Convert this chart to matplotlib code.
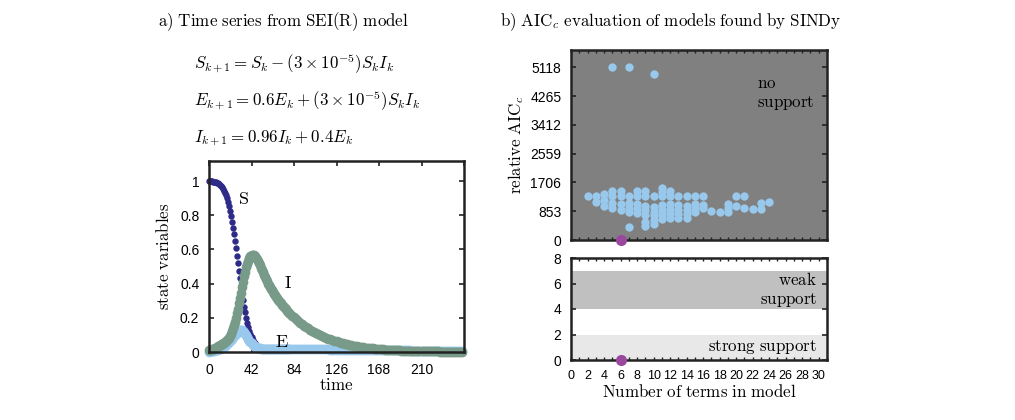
import numpy as np
import matplotlib
matplotlib.use("Agg")
import matplotlib.pyplot as plt

plt.rcParams['mathtext.fontset'] = 'cm'
plt.rcParams['font.family'] = ['Liberation Sans', 'DejaVu Sans']

# ---- panel a: SEI(R) time series (t = 0..79 every step, then every 2nd step) ----
S_early = [1.000, 1.000, 0.999, 0.998, 0.997, 0.996, 0.994, 0.992, 0.989, 0.986,
           0.982, 0.977, 0.971, 0.964, 0.955, 0.944, 0.931, 0.916, 0.898, 0.877,
           0.853, 0.826, 0.796, 0.763, 0.727, 0.689, 0.649, 0.607, 0.564, 0.520,
           0.476, 0.432, 0.388, 0.345, 0.304, 0.265, 0.232, 0.200, 0.172, 0.146,
           0.123, 0.103, 0.086, 0.072, 0.060, 0.050, 0.043, 0.037, 0.032, 0.028,
           0.025, 0.023, 0.021, 0.020, 0.019, 0.018, 0.017, 0.017, 0.016, 0.016,
           0.016, 0.016, 0.016, 0.016, 0.016, 0.016, 0.016, 0.016, 0.016, 0.016,
           0.015, 0.015, 0.015, 0.015, 0.015, 0.015, 0.015, 0.015, 0.015, 0.015]
E_early = [0.002, 0.003, 0.004, 0.005, 0.006, 0.007, 0.009, 0.010, 0.012, 0.014,
           0.016, 0.019, 0.022, 0.025, 0.028, 0.032, 0.036, 0.041, 0.046, 0.052,
           0.058, 0.064, 0.071, 0.078, 0.085, 0.092, 0.099, 0.106, 0.113, 0.119,
           0.124, 0.127, 0.129, 0.128, 0.124, 0.117, 0.108, 0.098, 0.087, 0.077,
           0.067, 0.058, 0.050, 0.043, 0.037, 0.033, 0.029, 0.026, 0.024, 0.022,
           0.021, 0.020, 0.020, 0.019, 0.019, 0.019, 0.018, 0.018, 0.018, 0.018,
           0.017, 0.017, 0.017, 0.017, 0.017, 0.017, 0.017, 0.017, 0.017, 0.017,
           0.016, 0.016, 0.016, 0.016, 0.016, 0.016, 0.016, 0.016, 0.016, 0.016]
I_early = [0.012, 0.013, 0.014, 0.016, 0.018, 0.020, 0.023, 0.026, 0.030, 0.033,
           0.037, 0.040, 0.043, 0.047, 0.051, 0.055, 0.060, 0.065, 0.071, 0.077,
           0.084, 0.093, 0.106, 0.121, 0.138, 0.157, 0.178, 0.200, 0.226, 0.254,
           0.284, 0.315, 0.347, 0.380, 0.412, 0.442, 0.470, 0.495, 0.517, 0.535,
           0.549, 0.559, 0.565, 0.567, 0.565, 0.560, 0.552, 0.542, 0.531, 0.519,
           0.506, 0.493, 0.480, 0.466, 0.453, 0.439, 0.426, 0.413, 0.400, 0.390,
           0.380, 0.370, 0.360, 0.351, 0.342, 0.333, 0.324, 0.316, 0.307, 0.299,
           0.292, 0.284, 0.277, 0.269, 0.262, 0.255, 0.249, 0.242, 0.236, 0.230]

S_late = [0.014, 0.014, 0.014, 0.014, 0.014, 0.014, 0.014, 0.014, 0.014, 0.014,
          0.014, 0.014, 0.014, 0.014, 0.014, 0.014, 0.014, 0.014, 0.014, 0.014,
          0.014, 0.014, 0.014, 0.014, 0.014, 0.014, 0.014, 0.014, 0.014, 0.014,
          0.014, 0.014, 0.014, 0.014, 0.014, 0.014, 0.014, 0.014, 0.014, 0.014,
          0.014, 0.014, 0.014, 0.014, 0.014, 0.014, 0.014, 0.014, 0.014, 0.014,
          0.014, 0.014, 0.014, 0.014, 0.014, 0.014, 0.014, 0.014, 0.014, 0.014,
          0.014, 0.014, 0.014, 0.014, 0.014, 0.014, 0.014, 0.014, 0.014, 0.014,
          0.014, 0.014, 0.014, 0.014, 0.014, 0.014, 0.014, 0.014, 0.014, 0.014,
          0.014, 0.014, 0.014, 0.014, 0.014, 0.014]
E_late = [0.016, 0.016, 0.016, 0.016, 0.016, 0.016, 0.016, 0.016, 0.016, 0.016,
          0.015, 0.015, 0.015, 0.015, 0.015, 0.015, 0.015, 0.015, 0.015, 0.015,
          0.014, 0.014, 0.014, 0.014, 0.014, 0.014, 0.014, 0.014, 0.014, 0.014,
          0.012, 0.012, 0.012, 0.012, 0.012, 0.012, 0.012, 0.012, 0.012, 0.012,
          0.010, 0.010, 0.010, 0.010, 0.010, 0.010, 0.010, 0.010, 0.010, 0.010,
          0.009, 0.009, 0.009, 0.009, 0.009, 0.009, 0.009, 0.009, 0.009, 0.009,
          0.008, 0.008, 0.008, 0.008, 0.008, 0.008, 0.008, 0.008, 0.008, 0.008,
          0.007, 0.007, 0.007, 0.007, 0.007, 0.007, 0.007, 0.007, 0.007, 0.007,
          0.006, 0.006, 0.006, 0.006, 0.006, 0.006]
I_late = [0.224, 0.213, 0.202, 0.192, 0.182, 0.172, 0.163, 0.154, 0.146, 0.138,
          0.131, 0.124, 0.117, 0.110, 0.104, 0.098, 0.093, 0.088, 0.083, 0.078,
          0.074, 0.070, 0.066, 0.062, 0.058, 0.055, 0.052, 0.049, 0.046, 0.043,
          0.041, 0.038, 0.036, 0.034, 0.032, 0.030, 0.028, 0.026, 0.025, 0.023,
          0.022, 0.021, 0.019, 0.018, 0.017, 0.016, 0.015, 0.014, 0.013, 0.012,
          0.012, 0.011, 0.010, 0.010, 0.009, 0.008, 0.008, 0.007, 0.007, 0.006,
          0.006, 0.006, 0.005, 0.005, 0.005, 0.004, 0.004, 0.004, 0.004, 0.003,
          0.003, 0.003, 0.003, 0.003, 0.002, 0.002, 0.002, 0.002, 0.002, 0.002,
          0.002, 0.002, 0.001, 0.001, 0.001, 0.001]

time_ticks = [0, 42, 84, 126, 168, 210]
state_ticks = [0, 0.2, 0.4, 0.6, 0.8, 1]

# ---- panel b: relative AICc of each SINDy model vs number of terms ----
model_terms = [2,
               3, 3,
               4, 4, 4,
               5, 5, 5, 5, 5,
               6, 6, 6, 6,
               7, 7, 7, 7, 7, 7,
               8, 8, 8, 8, 8,
               9, 9, 9, 9, 9, 9, 9,
               10, 10, 10, 10, 10, 10, 10,
               11, 11, 11, 11, 11, 11, 11,
               12, 12, 12, 12, 12, 12,
               13, 13, 13, 13, 13,
               14, 14, 14, 14, 14,
               15, 15, 15, 15,
               16, 16, 16,
               17, 18,
               19, 19, 19,
               20, 20,
               21, 21,
               22,
               23, 23,
               24]
model_aicc = [1314,
              1314, 1116,
              1350, 1190, 1020,
              5118, 1452, 1314, 1087, 939,
              1452, 1314, 1057, 889,
              5118, 1314, 1087, 958, 820, 375,
              1452, 1314, 1057, 919, 790,
              1452, 1314, 1017, 889, 741, 543, 425,
              4920, 1314, 988, 840, 741, 593, 464,
              1551, 1413, 1314, 1037, 889, 741, 622,
              1452, 1314, 1057, 919, 790, 642,
              1314, 1037, 889, 761, 642,
              1314, 1017, 889, 761, 662,
              1314, 1057, 939, 820,
              1314, 1037, 939,
              860, 820,
              1057, 939, 820,
              1314, 1017,
              1314, 939,
              919,
              1087, 919,
              1116]
best_terms = [6]
best_aicc = [0]
aicc_ticks = [0, 853, 1706, 2559, 3412, 4265, 5118]
zoom_ticks = [0, 2, 4, 6, 8]
terms_ticks = list(range(0, 31, 2))

c_S = '#2d2a88'
c_E = '#98c8ec'
c_I = '#789a88'
c_best = '#9a479e'
c_frame = '#222222'
FS = 12.2

W, H = 1015, 420
fig = plt.figure(figsize=(W / 100, H / 100), dpi=100)


def px_axes(x0, y0, x1, y1):
    return fig.add_axes([x0 / W, 1 - y1 / H, (x1 - x0) / W, (y1 - y0) / H])


def style(ax):
    for sp in ax.spines.values():
        sp.set_color(c_frame)
        sp.set_linewidth(1.8)
    ax.tick_params(direction='in', top=True, right=True, length=3.5,
                   width=1.2, color=c_frame, labelsize=10)
    ax.tick_params(axis='y', pad=7)
    ax.tick_params(axis='x', pad=8)
    ax.tick_params(which='minor', direction='in', top=True, right=True,
                   length=2.5, width=1.0, color=c_frame)


def serif(s):
    return r'$\mathrm{' + s.replace(' ', r'\ ') + '}$'


# panel a
ax1 = px_axes(209, 161, 464, 352)
time_early = np.arange(len(S_early))
time_late = len(S_early) + 2 * np.arange(len(S_late))
time = np.concatenate([time_early, time_late])
S = np.concatenate([S_early, S_late])
E = np.concatenate([E_early, E_late])
I = np.concatenate([I_early, I_late])
ax1.plot(time, S, 'o', color=c_S, ms=4.6, mew=0, clip_on=False)
ax1.plot(time, E, 'o', color=c_E, ms=7.0, mew=0, clip_on=False)
ax1.plot(time, I, 'o', color=c_I, ms=7.0, mew=0, clip_on=False)
ax1.set_xlim(0, 252)
ax1.set_ylim(0, 1.117)
ax1.set_xticks(time_ticks + [252])
ax1.set_xticklabels([str(t) for t in time_ticks] + [''])
ax1.set_yticks(state_ticks)
ax1.set_yticklabels(['0', '0.2', '0.4', '0.6', '0.8', '1'])
style(ax1)
ax1.text(34.5, 0.89, '$\\mathrm{S}$', fontsize=13, ha='center', va='center')
ax1.text(78, 0.40, '$\\mathrm{I}$', fontsize=13, ha='center', va='center')
ax1.text(72, 0.055, '$\\mathrm{E}$', fontsize=13, ha='center', va='center')
ax1.set_ylabel(serif('state variables'), fontsize=FS, labelpad=6)
ax1.set_xlabel(serif('time'), fontsize=FS, labelpad=0)

fig.text(158 / W, 1 - 22 / H, serif('a) Time series from SEI(R) model'),
         fontsize=FS, ha='left', va='center')
fig.text(194 / W, 1 - 64 / H, r'$S_{k+1} = S_k - (3\times10^{-5})S_kI_k$',
         fontsize=FS, ha='left', va='center')
fig.text(194 / W, 1 - 101 / H, r'$E_{k+1} = 0.6E_k + (3\times10^{-5})S_kI_k$',
         fontsize=FS, ha='left', va='center')
fig.text(194 / W, 1 - 138 / H, r'$I_{k+1} = 0.96I_k + 0.4E_k$',
         fontsize=FS, ha='left', va='center')

# panel b, top
ax2 = px_axes(571, 50, 827, 240)
ax2.set_facecolor('#808080')
ax2.plot(model_terms, model_aicc, 'o', color=c_E, ms=6.0, mew=0)
ax2.plot(best_terms, best_aicc, 'o', color=c_best, ms=8.0, mew=0,
         clip_on=False, zorder=5)
ax2.set_xlim(0, 31)
ax2.set_ylim(0, 5118 * 1.1)
ax2.set_yticks(aicc_ticks)
ax2.set_xticks(range(0, 32))
ax2.set_xticklabels([])
style(ax2)
ax2.tick_params(axis='x', length=2.5, width=1.0)
ax2.text(22.5, 4645, serif('no'), fontsize=FS, ha='left', va='center')
ax2.text(22.5, 4050, serif('support'), fontsize=FS, ha='left', va='center')
ax2.set_ylabel(r'$\mathrm{relative\ AIC}_c$', fontsize=FS, labelpad=3)
fig.text(500 / W, 1 - 22 / H,
         r'$\mathrm{b)\ AIC}_c\mathrm{\ evaluation\ of\ models\ found\ by\ SINDy}$',
         fontsize=FS, ha='left', va='center')

# panel b, bottom (zoom on the supported range)
ax3 = px_axes(571, 258, 827, 360)
ax3.axhspan(0, 2, color='#e8e8e8', lw=0, zorder=0)
ax3.axhspan(4, 7, color='#c0c0c0', lw=0, zorder=0)
ax3.plot(best_terms, best_aicc, 'o', color=c_best, ms=8.0, mew=0,
         clip_on=False, zorder=5)
ax3.set_xlim(0, 31)
ax3.set_ylim(0, 8)
ax3.set_yticks(zoom_ticks)
ax3.set_xticks(terms_ticks)
ax3.set_xticks(range(0, 32), minor=True)
style(ax3)
ax3.tick_params(axis='x', which='major', length=2.5, width=1.0,
                labelsize=9, pad=7)
ax3.text(29.8, 6.3, serif('weak'), fontsize=FS, ha='right', va='center')
ax3.text(29.8, 4.7, serif('support'), fontsize=FS, ha='right', va='center')
ax3.text(29.8, 1.0, serif('strong support'), fontsize=FS, ha='right', va='center')
ax3.set_xlabel(serif('Number of terms in model'), fontsize=FS, labelpad=1)

fig.savefig('out.png', dpi=100)
